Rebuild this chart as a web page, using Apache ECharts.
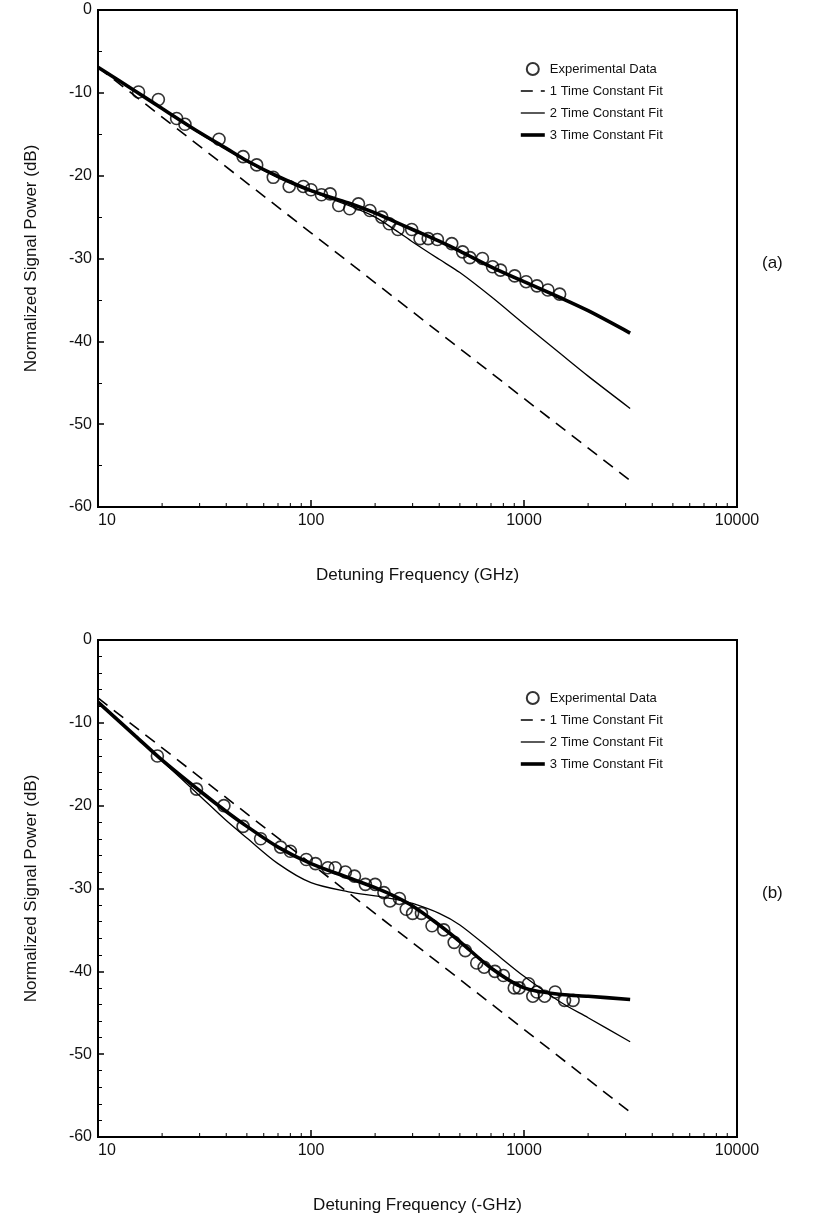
<!DOCTYPE html>
<html>
<head>
<meta charset="utf-8">
<script src="https://cdn.jsdelivr.net/npm/echarts@6/dist/echarts.min.js"></script>
<style>
	html, body { margin: 0; padding: 0; background: #fff; }
	#main { width: 821px; height: 1227px; }
</style>
</head>
<body>
<div id="main"></div>
<script>
// (a) experimental points
var freqA = [15.5, 19.2, 23.4, 25.6, 37, 48, 55.6, 66.5, 79, 92, 100, 112, 123, 135, 152, 167, 189, 215, 233, 256, 297, 325, 355, 392, 458, 515, 557, 638, 712, 776, 904, 1023, 1150, 1295, 1470];
var powA = [-9.9, -10.8, -13.1, -13.8, -15.6, -17.7, -18.7, -20.2, -21.3, -21.3, -21.7, -22.3, -22.2, -23.6, -24.0, -23.4, -24.2, -25.0, -25.8, -26.5, -26.5, -27.6, -27.6, -27.7, -28.2, -29.2, -29.9, -30.0, -31.0, -31.4, -32.1, -32.8, -33.3, -33.8, -34.3];

// (b) experimental points
var freqB = [19, 29, 39, 48, 58, 72, 80, 95, 105, 120, 130, 145, 160, 180, 200, 220, 235, 260, 280, 300, 330, 370, 420, 470, 530, 600, 650, 730, 800, 900, 950, 1050, 1100, 1150, 1250, 1400, 1550, 1700];
var powB = [-14, -18, -20, -22.5, -24, -25, -25.5, -26.5, -27, -27.5, -27.5, -28, -28.5, -29.5, -29.5, -30.5, -31.5, -31.2, -32.5, -33, -33, -34.5, -35, -36.5, -37.5, -39, -39.5, -40, -40.5, -42, -42, -41.5, -43, -42.5, -43, -42.5, -43.5, -43.5];

// fit curves
var fitF = [10, 15, 20, 30, 40, 50, 70, 100, 150, 200, 250, 300, 400, 500, 700, 1000, 1500, 2000, 3150];
var fit3A = [-6.9, -9.8, -11.9, -14.8, -16.7, -18.2, -20.1, -21.8, -23.3, -24.5, -25.6, -26.5, -27.9, -29.1, -31.0, -32.8, -34.8, -36.3, -39.0];
var fit2A = [-6.9, -9.8, -11.9, -14.9, -16.8, -18.3, -20.2, -21.9, -23.6, -25.0, -26.6, -28.0, -30.1, -31.7, -34.6, -37.9, -41.6, -44.2, -48.1];
var fit3B = [-7.5, -11.6, -14.5, -18.2, -20.7, -22.5, -25.0, -27.0, -28.7, -29.9, -31.0, -32.1, -34.4, -36.4, -39.6, -42.0, -42.8, -43.0, -43.4];
var fit2B = [-7.5, -11.6, -14.6, -18.8, -21.8, -23.9, -27.0, -29.3, -30.4, -30.9, -31.3, -31.8, -33.0, -34.4, -37.4, -40.6, -43.8, -45.6, -48.5];
var fit1F = [10, 100, 1000, 3150];
var fit1A = [-6.9, -26.9, -46.9, -56.8];
var fit1B = [-7.0, -27.0, -47.0, -57.0];

var xMinorTicks = [20, 30, 40, 50, 60, 70, 80, 90, 200, 300, 400, 500, 600, 700, 800, 900, 2000, 3000, 4000, 5000, 6000, 7000, 8000, 9000];
var names = ['Experimental Data', '1 Time Constant Fit', '2 Time Constant Fit', '3 Time Constant Fit'];

var FONT = 'Liberation Sans';
var NOFILL = 'rgba(0,0,0,0)';

function pairs(xs, ys){
	var out = [];
	for(var i = 0; i < xs.length; i++){
		out.push([xs[i], ys[i]]);
	}
	return out;
}

function xAxisOf(idx, title){
	return {
		type: 'log', logBase: 10, min: 10, max: 10000, gridIndex: idx,
		name: title, nameLocation: 'middle', nameGap: 60,
		nameTextStyle: { fontFamily: FONT, fontSize: 17, color: '#111' },
		axisLine: { show: true, onZero: false, lineStyle: { color: '#000', width: 2 } },
		axisTick: { show: true, inside: true, length: 7, lineStyle: { color: '#000', width: 1.5 } },
		axisLabel: {
			fontFamily: FONT, fontSize: 16, color: '#111', margin: 6, alignMinLabel: 'left',
			formatter: function(v){ return String(Math.round(v)); }
		},
		splitLine: { show: false }
	};
}

function yAxisOf(idx, minorSplit){
	return {
		type: 'value', min: -60, max: 0, interval: 10, gridIndex: idx,
		name: 'Normalized Signal Power (dB)', nameLocation: 'middle', nameGap: 58,
		nameTextStyle: { fontFamily: FONT, fontSize: 17, color: '#111' },
		axisLine: { show: true, lineStyle: { color: '#000', width: 2 } },
		axisTick: { show: true, inside: true, length: 6, lineStyle: { color: '#000', width: 1.5 } },
		minorTick: { show: true, splitNumber: minorSplit, length: 4, lineStyle: { color: '#000', width: 1 } },
		axisLabel: { fontFamily: FONT, fontSize: 16, color: '#111', margin: 6 },
		splitLine: { show: false }
	};
}

function seriesOf(idx, fx, fy, f1, f3, f2){
	return [
		{
			name: names[0], type: 'scatter', xAxisIndex: idx, yAxisIndex: idx,
			data: pairs(fx, fy), symbol: 'circle', symbolSize: 12, z: 5,
			itemStyle: { color: NOFILL, borderColor: '#000', borderWidth: 1.6 }
		},
		{
			name: names[1], type: 'line', xAxisIndex: idx, yAxisIndex: idx,
			data: pairs(fit1F, f1), symbol: 'none', z: 3,
			itemStyle: { color: NOFILL, borderWidth: 0 },
			lineStyle: { color: '#000', width: 1.6, type: [12, 8] }
		},
		{
			name: names[2], type: 'line', xAxisIndex: idx, yAxisIndex: idx,
			data: pairs(fitF, f2), symbol: 'none', smooth: 0.3, z: 3,
			itemStyle: { color: NOFILL, borderWidth: 0 },
			lineStyle: { color: '#000', width: 1.3 }
		},
		{
			name: names[3], type: 'line', xAxisIndex: idx, yAxisIndex: idx,
			data: pairs(fitF, f3), symbol: 'none', smooth: 0.3, z: 4,
			itemStyle: { color: NOFILL, borderWidth: 0 },
			lineStyle: { color: '#000', width: 3.6 }
		},
		{
			// log minor ticks on the bottom axis
			type: 'custom', xAxisIndex: idx, yAxisIndex: idx, silent: true, clip: false,
			data: xMinorTicks.map(function(v){ return [v, -60]; }),
			renderItem: function(params, api){
				var p = api.coord([api.value(0), api.value(1)]);
				return {
					type: 'line',
					shape: { x1: p[0], y1: p[1], x2: p[0], y2: p[1] - 4 },
					style: { stroke: '#000', lineWidth: 1 }
				};
			}
		}
	];
}

function legendOf(top){
	return {
		data: names, orient: 'vertical', left: 514, top: top,
		itemWidth: 24, itemHeight: 12, itemGap: 8,
		lineStyle: { width: 'inherit' },
		textStyle: { fontFamily: FONT, fontSize: 13, color: '#111', lineHeight: 14 },
		selectedMode: false
	};
}

var myChart = echarts.init(document.getElementById('main'), null, { renderer: 'canvas' });
myChart.setOption({
	animation: false,
	backgroundColor: '#fff',
	grid: [
		{ left: 98, top: 10, width: 639, height: 497, show: true, borderColor: '#000', borderWidth: 2 },
		{ left: 98, top: 640, width: 639, height: 497, show: true, borderColor: '#000', borderWidth: 2 }
	],
	xAxis: [xAxisOf(0, 'Detuning Frequency (GHz)'), xAxisOf(1, 'Detuning Frequency (-GHz)')],
	yAxis: [yAxisOf(0, 2), yAxisOf(1, 5)],
	legend: [legendOf(57), legendOf(686)],
	graphic: [
		{ type: 'text', left: 762, top: 255, style: { text: '(a)', font: '17px "Liberation Sans"', fill: '#111' } },
		{ type: 'text', left: 762, top: 885, style: { text: '(b)', font: '17px "Liberation Sans"', fill: '#111' } }
	],
	series: seriesOf(0, freqA, powA, fit1A, fit3A, fit2A).concat(seriesOf(1, freqB, powB, fit1B, fit3B, fit2B))
});
</script>
</body>
</html>
